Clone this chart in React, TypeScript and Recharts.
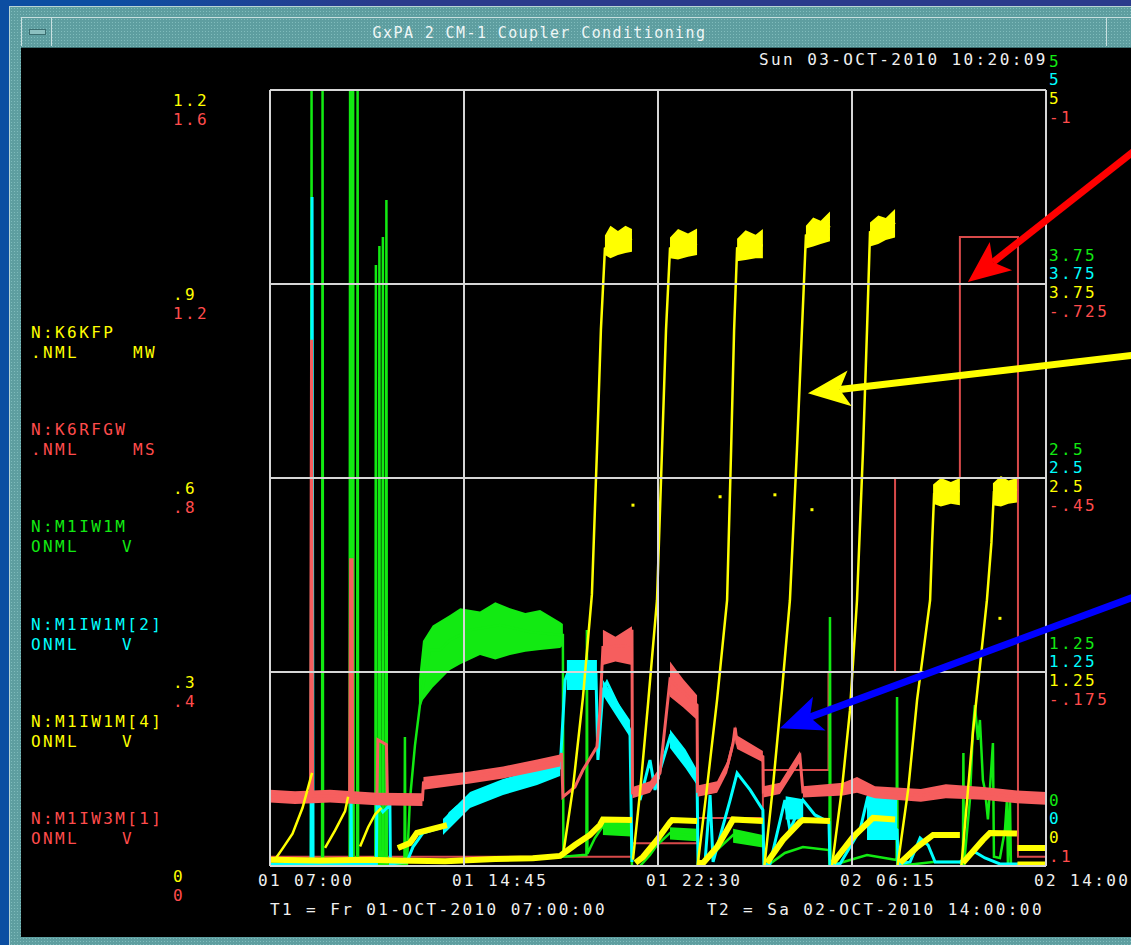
import React from "react"
import {
  ComposedChart,
  Line,
  Area,
  Scatter,
  XAxis,
  YAxis,
  CartesianGrid,
  ReferenceLine,
} from "recharts"

// time axis: hours after Fr 01-OCT-2010 07:00
const timeTicks = [0, 7.75, 15.5, 23.25, 31]
const timeLabels = ["01 07:00", "01 14:45", "01 22:30", "02 06:15", "02 14:00"]

const kfpTicks = [0, 0.3, 0.6, 0.9, 1.2]
const kfpLabels = ["0", ".3", ".6", ".9", "1.2"]
const rfgwLabels = ["0", ".4", ".8", "1.2", "1.6"]
const m1Ticks = [0, 1.25, 2.5, 3.75, 5]
const m1Labels = ["0", "1.25", "2.5", "3.75", "5"]
const m3Labels = [".1", "-.175", "-.45", "-.725", "-1"]

type P = [number, number | null]
type B = [number, number | null, number | null]

// N:K6KFP.NML  (MW)
const kfpData: P[] = [
  [0.2, 0.01], [0.52, 0.028], [0.9, 0.05], [1.3, 0.09], [1.68, 0.144], [1.7, null],
  [2.2, 0.028], [2.6, 0.055], [3.0, 0.085], [3.12, 0.107], [3.16, null],
  [3.6, 0.03], [3.92, 0.06], [4.2, 0.08], [4.45, 0.09], [4.5, null],
  [5.11, 0.028], [5.59, 0.036], [5.62, null],
  [11.7, 0.015], [12.1, 0.12], [12.5, 0.26], [12.86, 0.42], [13.06, 0.64], [13.22, 0.83], [13.38, 0.955], [13.9, 0.965], [14.46, 0.97], [14.48, null],
  [14.5, 0.01], [14.78, 0.113], [15.1, 0.25], [15.46, 0.411], [15.66, 0.643], [15.82, 0.829], [15.98, 0.955], [16.5, 0.962], [17.06, 0.96], [17.07, null],
  [17.08, 0.0], [17.46, 0.122], [17.86, 0.257], [18.26, 0.411], [18.42, 0.643], [18.54, 0.829], [18.66, 0.955], [19.2, 0.958], [19.69, 0.96], [19.7, null],
  [19.75, 0.0], [20.09, 0.122], [20.45, 0.27], [20.77, 0.411], [21.05, 0.643], [21.25, 0.829], [21.41, 0.975], [21.9, 0.98], [22.37, 0.99], [22.38, null],
  [22.45, 0.0], [22.85, 0.12], [23.17, 0.241], [23.45, 0.411], [23.69, 0.643], [23.85, 0.829], [23.97, 0.98], [24.5, 0.985], [24.97, 0.995], [24.98, null],
  [25.07, 0.0], [25.5, 0.12], [25.85, 0.257], [26.37, 0.411], [26.45, 0.5], [26.53, 0.575], [27.0, 0.578], [27.56, 0.58], [27.57, null],
  [27.62, 0.0], [28.08, 0.206], [28.64, 0.411], [28.82, 0.5], [28.92, 0.578], [29.4, 0.58], [29.84, 0.582],
]
// noisy flat tops of K6KFP
const kfpBand: B[] = [
  [13.38, 0.945, 0.975], [13.6, 0.94, 0.99], [13.9, 0.945, 0.982], [14.2, 0.948, 0.99], [14.46, 0.95, 0.985], [14.47, null, null],
  [15.98, 0.94, 0.972], [16.3, 0.938, 0.985], [16.7, 0.942, 0.978], [17.06, 0.945, 0.986], [17.07, null, null],
  [18.66, 0.935, 0.97], [19.0, 0.937, 0.983], [19.4, 0.94, 0.976], [19.69, 0.94, 0.985], [19.7, null, null],
  [21.41, 0.955, 0.99], [21.7, 0.958, 1.003], [22.0, 0.962, 0.998], [22.37, 0.966, 1.012], [22.38, null, null],
  [23.97, 0.958, 0.995], [24.3, 0.962, 1.006], [24.6, 0.968, 1.002], [24.97, 0.972, 1.016], [24.98, null, null],
  [26.49, 0.56, 0.59], [26.8, 0.556, 0.6], [27.2, 0.56, 0.594], [27.56, 0.558, 0.6], [27.57, null, null],
  [28.88, 0.558, 0.592], [29.2, 0.556, 0.603], [29.5, 0.56, 0.596], [29.84, 0.562, 0.6],
]
const kfpStray: P[] = [[14.5, 0.558], [17.98, 0.571], [20.17, 0.574], [21.65, 0.551], [29.16, 0.383]]

// N:K6RFGW.NML  (MS)
const rfgwData: P[] = [
  [0, 0.019], [14.46, 0.047], [17.06, 0.099], [19.69, 0.198], [22.31, 0.4],
  [24.97, 0.8], [27.56, 1.297], [29.88, 0.019], [31, 0.019],
]

// N:M1IW1M  (V)
const m1Data: P[] = [
  [0, 0.01], [1.64, 0.01], [1.66, 5], [1.68, 0.01], [2.08, 0.01], [2.1, 5], [2.12, 0.01],
  [3.18, 0.01], [3.2, 5], [3.26, 5], [3.28, 0.01], [3.3, 0.01], [3.32, 5], [3.34, 0.01],
  [3.48, 0.01], [3.5, 5], [3.52, 0.01], [4.21, 0.01], [4.23, 3.872], [4.25, 0.01],
  [4.35, 0.01], [4.37, 3.995], [4.39, 0.01], [4.49, 0.01], [4.51, 4.053], [4.53, 0.01],
  [4.63, 0.01], [4.65, 4.291], [4.67, 0.01], [5.37, 0.01], [5.39, 0.831], [5.41, 0.01],
  [5.47, 0.01], [5.59, 0.425], [5.79, 0.776], [5.99, 1.037], [6.19, 1.231], [6.39, 1.392],
  [6.79, 1.392], [7.19, 1.456], [7.99, 1.52], [9.19, 1.553], [10.39, 1.508], [11.59, 1.488],
  [11.7, 1.488], [11.72, 0.06], [12.5, 0.071], [12.64, 0.071], [12.66, 1.52], [12.68, 0.08],
  [12.98, 0.18], [13.3, 0.258], [14.42, 0.232], [14.46, 0.0], [14.47, null],
  [14.78, 0.0], [15.18, 0.071], [15.46, 0.135], [15.98, 0.213], [17.06, 0.193], [17.07, null],
  [17.3, 0.013], [17.98, 0.122], [18.5, 0.2], [19.69, 0.155], [19.7, null],
  [19.85, 0.0], [20.57, 0.084], [21.29, 0.122], [22.33, 0.103], [22.35, 0.0], [22.37, 1.604], [22.39, 0.0],
  [23.17, 0.039], [23.85, 0.071], [25.03, 0.039], [25.05, 1.089], [25.07, 0.0], [26.49, 0.026],
  [27.56, 0.026], [27.68, 0.0], [27.7, 0.728], [27.72, 0.0], [27.96, 0.425], [28.08, 0.876],
  [28.16, 1.037], [28.28, 0.812], [28.36, 0.941], [28.48, 0.554], [28.56, 0.49], [28.68, 0.3],
  [28.88, 0.792], [28.92, 0.06], [29.16, 0.052], [29.36, 0.232], [29.44, 0.425], [29.48, 0.0],
  [29.56, 0.425], [29.6, 0.0], [29.84, 0.0], [31, 0.0],
]
const m1Band: B[] = [
  [5.95, 1.0, 1.2], [6.11, 1.07, 1.45], [6.5, 1.15, 1.55], [7.19, 1.263, 1.617], [7.6, 1.3, 1.66],
  [8.39, 1.36, 1.64], [9.0, 1.33, 1.7], [9.59, 1.36, 1.66], [10.2, 1.38, 1.63],
  [10.79, 1.392, 1.649], [11.59, 1.405, 1.572], [11.7, 1.42, 1.56], [11.71, null, null],
  [13.3, 0.2, 0.29], [14.42, 0.19, 0.28], [14.43, null, null],
  [15.98, 0.17, 0.25], [17.06, 0.16, 0.24], [17.07, null, null],
  [18.5, 0.15, 0.24], [19.69, 0.12, 0.2],
]

// N:M1IW1M[2]  (V)
const m2Data: P[] = [
  [0, 0.013], [1.64, 0.013], [1.68, 4.31], [1.72, 0.013], [3.22, 0.013], [3.24, 0.445], [3.26, 0.013],
  [4.25, 0.013], [4.27, 0.406], [4.51, 0.348], [4.79, 0.393], [4.81, 0.013], [5.47, 0.026],
  [5.71, 0.122], [6.11, 0.213], [6.91, 0.251], [7.19, 0.341], [7.47, 0.38], [7.99, 0.425],
  [9.31, 0.509], [10.67, 0.573], [11.59, 0.631], [11.79, 1.198], [11.98, 1.282], [12.58, 1.276],
  [13.02, 1.243], [13.1, 0.683], [13.3, 1.134], [13.46, 1.185], [13.9, 1.037], [14.38, 0.876],
  [14.46, 0.026], [14.47, null],
  [14.78, 0.425], [15.18, 0.683], [15.38, 0.49], [15.58, 0.618], [15.98, 0.831], [16.58, 0.683],
  [17.06, 0.567], [17.1, 0.013], [17.38, 0.026], [17.58, 0.457], [17.7, 0.026], [18.38, 0.425],
  [18.66, 0.599], [19.18, 0.49], [19.69, 0.361], [19.73, 0.013], [19.97, 0.013], [20.57, 0.425],
  [20.77, 0.232], [21.29, 0.425], [21.77, 0.329], [22.33, 0.283], [22.37, 0.013], [22.77, 0.013],
  [23.57, 0.232], [23.85, 0.425], [24.17, 0.329], [24.57, 0.296], [25.05, 0.232], [25.09, 0.013],
  [25.57, 0.026], [25.97, 0.18], [26.29, 0.135], [26.57, 0.026], [27.56, 0.026], [28.16, 0.09],
  [28.56, 0.052], [29.16, 0.013], [31, 0.013],
]
const m2Band: B[] = [
  [6.91, 0.2, 0.303], [7.99, 0.374, 0.477], [9.31, 0.457, 0.561], [10.67, 0.522, 0.625],
  [11.59, 0.58, 0.683], [11.6, null, null],
  [11.86, 1.134, 1.327], [13.06, 1.134, 1.327], [13.07, null, null],
  [13.3, 1.1, 1.198], [14.38, 0.83, 0.941], [14.39, null, null],
  [15.98, 0.76, 0.88], [16.6, 0.63, 0.75], [17.06, 0.52, 0.62], [17.07, null, null],
  [20.6, 0.3, 0.45], [21.3, 0.3, 0.43], [21.31, null, null],
  [23.85, 0.168, 0.509], [25.05, 0.168, 0.44],
]

// N:M1IW1M[4]  (V)
const m4Data: P[] = [
  [0, 0.04], [2.0, 0.035], [4.0, 0.04], [5.0, 0.035], [7.0, 0.03], [9.0, 0.045], [10.5, 0.05],
  [11.59, 0.065], [12.18, 0.135], [12.78, 0.2], [13.18, 0.264], [13.3, 0.3], [14.46, 0.296], [14.47, null],
  [14.6, 0.02], [14.9, 0.058], [15.46, 0.168], [15.98, 0.283], [16.06, 0.296], [17.06, 0.29], [17.07, null],
  [17.1, 0.02], [17.3, 0.02], [17.86, 0.122], [18.26, 0.232], [18.5, 0.3], [19.69, 0.29], [19.7, null],
  [19.85, 0.02], [20.49, 0.168], [21.17, 0.283], [21.29, 0.296], [22.37, 0.29], [22.38, null],
  [22.49, 0.02], [23.29, 0.187], [24.09, 0.31], [24.97, 0.3], [24.98, null],
  [25.17, 0.02], [25.85, 0.122], [26.49, 0.2], [27.56, 0.2], [27.57, null],
  [27.68, 0.02], [28.48, 0.168], [28.76, 0.213], [29.84, 0.21], [29.85, null],
  [29.86, 0.116], [31, 0.116], [31, null],
  [29.86, 0.01], [31, 0.01], [31, null],
  [5.11, 0.116], [5.59, 0.148], [5.87, 0.213], [7.07, 0.264],
]

// N:M1IW3M[1]  (V, axis runs from .1 at the bottom to -1 at the top)
const m3Data: P[] = [
  [0, 0.001], [1.0, 0.002], [1.62, 0.0], [1.66, -0.646], [1.7, 0.0], [2.4, 0.001], [3.18, 0.0],
  [3.22, -0.334], [3.28, -0.334], [3.3, 0.0], [4.27, 0.005], [4.31, -0.079], [4.65, -0.072],
  [4.69, 0.005], [5.0, 0.006], [6.09, 0.006], [6.13, -0.018], [7.99, -0.026], [9.31, -0.033],
  [10.67, -0.043], [11.59, -0.05], [11.65, -0.06], [11.7, 0.002], [12.18, -0.012], [12.5, -0.036],
  [13.06, -0.069], [13.18, -0.12], [13.3, -0.21], [14.38, -0.213], [14.46, -0.235], [14.48, -0.004],
  [15.18, -0.012], [15.58, -0.032], [15.98, -0.164], [17.06, -0.128], [17.08, -0.006],
  [17.86, -0.012], [18.26, -0.04], [18.5, -0.074], [18.58, -0.096], [18.66, -0.074],
  [19.69, -0.055], [19.71, -0.005], [20.37, -0.01], [21.17, -0.055], [21.29, -0.005],
  [22.89, -0.01], [23.45, -0.015], [24.17, -0.005], [26.0, 0.0], [27.0, -0.006], [28.5, -0.003],
  [29.84, 0.002], [31, 0.004],
]
const m3Band: B[] = [
  [0, -0.008, 0.01], [1.0, -0.006, 0.012], [2.4, -0.008, 0.01], [4.27, -0.004, 0.014], [6.09, -0.003, 0.015], [6.1, null, null],
  [6.13, -0.026, -0.008], [7.99, -0.034, -0.017], [9.31, -0.041, -0.024], [10.67, -0.051, -0.034], [11.59, -0.058, -0.041], [11.6, null, null],
  [13.3, -0.185, -0.235], [13.8, -0.19, -0.225], [14.46, -0.185, -0.24], [14.47, null, null],
  [14.48, -0.012, 0.004], [15.18, -0.02, -0.004], [15.58, -0.04, -0.024], [15.6, null, null],
  [15.98, -0.14, -0.19], [16.5, -0.125, -0.165], [17.06, -0.107, -0.142], [17.07, null, null],
  [17.08, -0.014, 0.002], [17.86, -0.02, -0.004], [18.26, -0.048, -0.032], [18.5, -0.082, -0.066], [18.51, null, null],
  [18.6, -0.075, -0.1], [18.66, -0.066, -0.085], [19.69, -0.047, -0.063], [19.7, null, null],
  [19.71, -0.013, 0.003], [20.37, -0.018, -0.002], [21.17, -0.063, -0.047], [21.18, null, null],
  [21.29, -0.013, 0.003], [22.89, -0.018, 0.0], [23.45, -0.026, -0.004], [24.17, -0.013, 0.004],
  [26.0, -0.009, 0.009], [27.0, -0.016, 0.004], [28.5, -0.012, 0.006], [29.84, -0.007, 0.011], [31, -0.005, 0.013],
]

const YEL = "#ffff00"
const RED = "#ff4c4c"
const SALMON = "#f65e5e"
const GRN = "#12ea12"
const CYN = "#00ffff"

const legend = [
  { name: "N:K6KFP", sub: ".NML", unit: "MW", color: YEL },
  { name: "N:K6RFGW", sub: ".NML", unit: "MS", color: RED },
  { name: "N:M1IW1M", sub: "ONML", unit: "V", color: GRN },
  { name: "N:M1IW1M[2]", sub: "ONML", unit: "V", color: CYN },
  { name: "N:M1IW1M[4]", sub: "ONML", unit: "V", color: YEL },
  { name: "N:M1IW3M[1]", sub: "ONML", unit: "V", color: RED },
]

// annotation arrows, in (hours, K6KFP MW)
const arrows = [
  { color: "#ff0000", tail: [34.5, 1.105], head: [27.88, 0.903] },
  { color: "#ffff00", tail: [34.5, 0.79], head: [21.49, 0.731] },
  { color: "#0000ff", tail: [34.5, 0.416], head: [20.37, 0.213] },
]

const pts = (a: P[]) => a.map(([t, v]) => ({ t, v }))
const band = (a: B[]) => a.map(([t, lo, hi]) => ({ t, r: lo == null ? null : [lo, hi] }))

const MONO = "'DejaVu Sans Mono', 'Liberation Mono', monospace"
const txt = { fontFamily: MONO, fontSize: 16, letterSpacing: 2.4 }

function LeftTick({ y, payload }: any) {
  const i = kfpTicks.indexOf(payload.value)
  return (
    <g style={txt}>
      <text x={173} y={y + 16} fill={YEL}>{kfpLabels[i]}</text>
      <text x={173} y={y + 35} fill={RED}>{rfgwLabels[i]}</text>
    </g>
  )
}

function RightTick({ y, payload }: any) {
  const i = m1Ticks.indexOf(payload.value)
  const s = i === 0 ? -37 : 0
  return (
    <g style={txt}>
      <text x={1049} y={y - 23 + s} fill={GRN}>{m1Labels[i]}</text>
      <text x={1049} y={y - 5 + s} fill={CYN}>{m1Labels[i]}</text>
      <text x={1049} y={y + 14 + s} fill={YEL}>{m1Labels[i]}</text>
      <text x={1049} y={y + 33 + s} fill={RED}>{m3Labels[i]}</text>
    </g>
  )
}

function TimeTick({ x, y, payload }: any) {
  const i = timeTicks.indexOf(payload.value)
  return (
    <text x={x - 12} y={y + 12} fill="#f0f0f0" style={txt}>
      {timeLabels[i]}
    </text>
  )
}

function ArrowShape(props: any) {
  const { x1, y1, x2, y2, color } = props
  const a = Math.atan2(y2 - y1, x2 - x1)
  const c = Math.cos(a)
  const s = Math.sin(a)
  const bx = x2 - 42 * c
  const by = y2 - 42 * s
  const nx = x2 - 32 * c
  const ny = y2 - 32 * s
  return (
    <g>
      <line x1={x1} y1={y1} x2={nx} y2={ny} stroke={color} strokeWidth={7} />
      <polygon
        points={`${x2},${y2} ${bx - s * 18},${by + c * 18} ${nx},${ny} ${bx + s * 18},${by - c * 18}`}
        fill={color}
      />
    </g>
  )
}

const dotted = {
  backgroundColor: "#5e9ea0",
  backgroundImage: "radial-gradient(#80bcbc 0.7px, transparent 0.9px)",
  backgroundSize: "3px 3px",
}

const lineBase = { dot: false, activeDot: false, isAnimationActive: false } as const

export default function App() {
  return (
    <div
      style={{
        position: "relative",
        width: 1131,
        height: 945,
        overflow: "hidden",
        background: "linear-gradient(90deg, #0c4ea2 0px, #0c4ea2 110px, #2a3b8c 380px, #2a3b8c 100%)",
      }}
    >
      <style>{"body{margin:0}"}</style>
      <div style={{ position: "absolute", left: 9, top: 6, right: 0, bottom: 0, ...dotted, borderLeft: "1px solid #b8d4d4", borderTop: "1px solid #b8d4d4" }} />
      <div style={{ position: "absolute", left: 21, top: 17, right: 0, height: 29, ...dotted, borderTop: "1px solid #c8e0e0", borderBottom: "1px solid #3c6e70" }} />
      <div style={{ position: "absolute", left: 21, top: 17, width: 29, height: 29, borderRight: "1px solid #c8e0e0", borderLeft: "1px solid #c8e0e0" }}>
        <div style={{ position: "absolute", left: 7, top: 12, width: 15, height: 4, background: "#8cc0c0", border: "1px solid #3c6e70" }} />
      </div>
      <div style={{ position: "absolute", left: 1106, top: 17, width: 1, height: 29, background: "#c8e0e0" }} />
      <div
        style={{
          position: "absolute",
          left: 0,
          width: 1131,
          top: 24,
          textAlign: "center",
          fontFamily: MONO,
          fontSize: 15,
          letterSpacing: 1.4,
          color: "#eef6f6",
        }}
      >
        <span style={{ position: "relative", left: -26 }}>GxPA 2 CM-1 Coupler Conditioning</span>
      </div>
      <div style={{ position: "absolute", left: 21, top: 48, right: 0, bottom: 8, background: "#000" }} />

      <div style={{ position: "absolute", left: 0, top: 0 }}>
        <ComposedChart width={1131} height={945} margin={{ top: 90, right: 0, bottom: 0, left: 0 }}>
          <XAxis
            dataKey="t"
            type="number"
            domain={[0, 31]}
            ticks={timeTicks}
            interval={0}
            allowDataOverflow
            axisLine={false}
            tickLine={false}
            height={79}
            tick={<TimeTick />}
          />
          <YAxis yAxisId="kfp" orientation="left" width={270} domain={[0, 1.2]} ticks={kfpTicks} interval={0} allowDataOverflow axisLine={false} tickLine={false} tick={<LeftTick />} />
          <YAxis yAxisId="m1" orientation="right" width={85} domain={[0, 5]} ticks={m1Ticks} interval={0} allowDataOverflow axisLine={false} tickLine={false} tick={<RightTick />} />
          <YAxis yAxisId="rfgw" hide domain={[0, 1.6]} allowDataOverflow />
          <YAxis yAxisId="m2" hide domain={[0, 5]} allowDataOverflow />
          <YAxis yAxisId="m4" hide domain={[0, 5]} allowDataOverflow />
          <YAxis yAxisId="m3" hide domain={[-1, 0.1]} reversed allowDataOverflow />

          <Line yAxisId="rfgw" data={pts(rfgwData)} dataKey="v" type="stepAfter" stroke="#d84a4a" strokeWidth={2} {...lineBase} zIndex={10} />
          <Area yAxisId="m1" data={band(m1Band)} dataKey="r" stroke="none" fill={GRN} fillOpacity={1} {...lineBase} zIndex={20} />
          <Line yAxisId="m1" data={pts(m1Data)} dataKey="v" stroke={GRN} strokeWidth={2.5} {...lineBase} zIndex={21} />
          <Area yAxisId="m2" data={band(m2Band)} dataKey="r" stroke="none" fill={CYN} fillOpacity={1} {...lineBase} zIndex={30} />
          <Line yAxisId="m2" data={pts(m2Data)} dataKey="v" stroke={CYN} strokeWidth={3} {...lineBase} zIndex={31} />
          <Area yAxisId="m3" data={band(m3Band)} dataKey="r" stroke="none" fill={SALMON} fillOpacity={1} {...lineBase} zIndex={40} />
          <Line yAxisId="m3" data={pts(m3Data)} dataKey="v" stroke={SALMON} strokeWidth={3} {...lineBase} zIndex={41} />
          <Line yAxisId="m4" data={pts(m4Data)} dataKey="v" stroke={YEL} strokeWidth={6} {...lineBase} zIndex={50} />
          <Area yAxisId="kfp" data={band(kfpBand)} dataKey="r" stroke="none" fill={YEL} fillOpacity={1} {...lineBase} zIndex={60} />
          <Line yAxisId="kfp" data={pts(kfpData)} dataKey="v" stroke={YEL} strokeWidth={2.5} {...lineBase} zIndex={61} />
          <Scatter
            yAxisId="kfp"
            data={pts(kfpStray)}
            dataKey="v"
            isAnimationActive={false}
            zIndex={62}
            shape={(p: any) => <rect x={p.cx - 1.5} y={p.cy - 1.5} width={3} height={3} fill={YEL} />}
          />
          <CartesianGrid yAxisId="kfp" stroke="#d6d6d6" strokeWidth={2} fill="none" zIndex={100} />
          {arrows.map((a, i) => (
            <ReferenceLine
              key={i}
              yAxisId="kfp"
              segment={[
                { x: a.tail[0], y: a.tail[1] },
                { x: a.head[0], y: a.head[1] },
              ]}
              ifOverflow="visible"
              zIndex={200}
              shape={(p: any) => <ArrowShape {...p} color={a.color} />}
            />
          ))}
        </ComposedChart>
      </div>

      <svg width={1131} height={945} style={{ position: "absolute", left: 0, top: 0, pointerEvents: "none" }}>
        <g style={txt}>
          <text x={759} y={65} fill="#f0f0f0">Sun 03-OCT-2010 10:20:09</text>
          <text x={270} y={915} fill="#f0f0f0">T1 = Fr 01-OCT-2010 07:00:00</text>
          <text x={707} y={915} fill="#f0f0f0">T2 = Sa 02-OCT-2010 14:00:00</text>
          {legend.map((l, i) => (
            <g key={l.name} fill={l.color}>
              <text x={31} y={338 + i * 97.2}>{l.name}</text>
              <text x={31} y={358 + i * 97.2}>{l.sub}</text>
              <text x={l.unit === "V" ? 122 : 133} y={358 + i * 97.2}>{l.unit}</text>
            </g>
          ))}
        </g>
      </svg>
    </div>
  )
}
